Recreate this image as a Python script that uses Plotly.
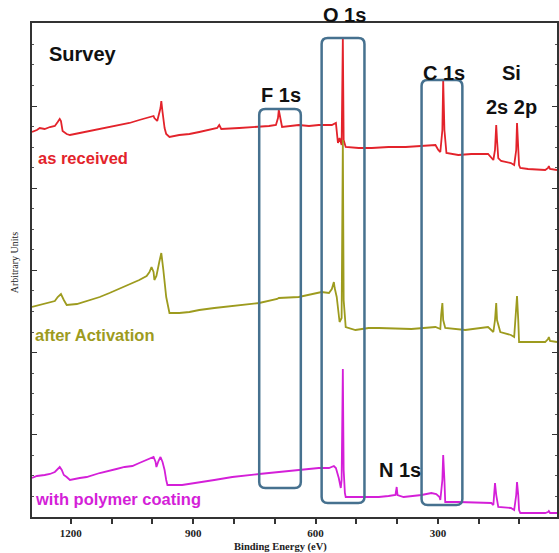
import plotly.graph_objects as go

# ---------------- data (binding energy in eV, intensity in arbitrary units) ----------------
energy_as_received = [1295, 1283, 1276, 1264, 1251, 1239, 1232, 1227, 1224, 1220, 1210, 1202, 1178, 1154,
                      1129, 1105, 1080, 1056, 1032, 1014, 1007, 997, 995, 990, 988, 980, 978, 975, 970, 966,
                      958, 934, 909, 885, 861, 841, 836, 831, 787, 741, 714, 697, 692, 690, 687, 682, 641,
                      616, 592, 560, 550, 545, 541, 536, 533, 531, 526, 494, 462, 421, 379, 348, 306, 299,
                      294, 289, 287, 284, 279, 250, 218, 177, 164, 160, 157, 155, 152, 145, 121, 113, 108,
                      106, 103, 101, 98, 79, 37, 30, 28, 25, 8]
intensity_as_received = [385, 387, 389, 388, 390, 391, 395, 398, 396, 386, 383, 382, 384, 386,
                         388, 390, 392, 394, 397, 399, 400, 401, 399, 397, 396, 409, 416, 405, 389, 383,
                         380, 382, 383, 385, 387, 389, 392, 388, 389, 390, 391, 392, 399, 407, 399, 390, 392,
                         391, 392, 392, 394, 374, 379, 372, 479, 377, 370, 369, 369, 370, 370, 371, 372, 367,
                         365, 387, 437, 387, 364, 362, 363, 363, 357, 367, 392, 377, 359, 356, 354, 352, 367,
                         394, 367, 352, 349, 348, 347, 349, 351, 348, 347]

energy_activation = [1295, 1276, 1251, 1239, 1232, 1224, 1217, 1210, 1185, 1161, 1129, 1105, 1088, 1068,
                     1049, 1032, 1014, 1007, 1002, 997, 995, 990, 983, 978, 973, 966, 958, 934, 909, 885,
                     848, 804, 763, 738, 694, 690, 641, 616, 585, 567, 560, 555, 553, 548, 543, 541, 536,
                     533, 531, 526, 502, 470, 445, 397, 365, 306, 294, 292, 289, 287, 282, 233, 177, 164,
                     160, 157, 155, 147, 121, 113, 108, 106, 103, 101, 79, 37, 30, 28, 25, 8]
intensity_activation = [210, 212, 214, 216, 220, 223, 217, 212, 213, 216, 220, 224, 227, 230,
                        234, 237, 241, 245, 250, 245, 237, 241, 255, 264, 247, 220, 204, 204, 205, 207,
                        209, 211, 213, 214, 218, 219, 220, 222, 225, 224, 228, 235, 229, 220, 205, 195, 199,
                        377, 217, 190, 187, 189, 189, 188, 188, 190, 188, 202, 214, 197, 189, 187, 190, 185,
                        197, 214, 197, 185, 182, 180, 207, 221, 197, 175, 175, 175, 178, 180, 176, 175]

energy_polymer = [1295, 1283, 1264, 1251, 1239, 1232, 1227, 1222, 1217, 1210, 1202, 1178, 1161, 1129,
                  1105, 1088, 1068, 1049, 1032, 1014, 1002, 997, 992, 990, 985, 980, 975, 970, 966, 963,
                  927, 909, 885, 848, 804, 775, 738, 714, 690, 665, 641, 616, 592, 567, 555, 550, 543,
                  538, 536, 533, 531, 528, 526, 494, 445, 421, 404, 401, 399, 384, 360, 340, 316, 304,
                  296, 294, 289, 287, 284, 282, 250, 201, 169, 164, 162, 160, 157, 152, 121, 113, 108,
                  106, 103, 101, 98, 37, 30, 28, 25, 8]
intensity_polymer = [39, 41, 42, 43, 45, 48, 50, 47, 42, 40, 37, 39, 40, 44,
                     46, 48, 50, 51, 54, 57, 59, 60, 55, 50, 56, 60, 55, 47, 37, 32,
                     32, 33, 35, 37, 40, 41, 43, 44, 45, 46, 47, 48, 49, 49, 51, 49, 39,
                     29, 37, 148, 47, 24, 20, 20, 20, 21, 22, 30, 22, 20, 21, 22, 24, 23,
                     20, 17, 37, 62, 37, 15, 15, 14, 14, 12, 22, 34, 22, 10, 9, 7, 22,
                     35, 22, 7, 4, 4, 5, 6, 4, 4]

series_names = ["as received", "after Activation", "with polymer coating"]
series_colors = ["#e3232b", "#9d9b1e", "#d41fd8"]

# highlight boxes (eV range, intensity range)
box_names = ["F 1s", "O 1s", "C 1s"]
box_ev_high = [738, 585, 340]
box_ev_low = [636, 480, 240]
box_int_low = [29, 14, 12]
box_int_high = [408, 479, 437]

# peak labels (inside the plot)
peak_texts = ["F 1s", "C 1s", "Si", "2s 2p", "N 1s"]
peak_ev = [685, 284, 120, 120, 394]
peak_int = [422, 444, 444, 410, 47]

label_ev = [1286, 1293, 1293]
label_int = [359, 182, 18]

x_tickvals = list(range(1200, 0, -100))
x_ticktext = [str(v) if v % 300 == 0 else "" for v in x_tickvals]

# ---------------- figure ----------------
fig = go.Figure()
for name, xs, ys, col in zip(series_names,
                             [energy_as_received, energy_activation, energy_polymer],
                             [intensity_as_received, intensity_activation, intensity_polymer],
                             series_colors):
    fig.add_trace(go.Scatter(x=xs, y=ys, mode="lines", name=name,
                             line=dict(color=col, width=1.8), showlegend=False, hoverinfo="skip"))

rx, ry = 15, 6
for L, R, B, T in zip(box_ev_high, box_ev_low, box_int_low, box_int_high):
    path = (f"M {L-rx},{B} L {R+rx},{B} Q {R},{B} {R},{B+ry} L {R},{T-ry} Q {R},{T} {R+rx},{T} "
            f"L {L-rx},{T} Q {L},{T} {L},{T-ry} L {L},{B+ry} Q {L},{B} {L-rx},{B} Z")
    fig.add_shape(type="path", path=path, xref="x", yref="y",
                  line=dict(color="#46718f", width=2.5), layer="above")

label_font = dict(family="Liberation Sans, Arial, sans-serif", size=20, color="#111111", weight="bold")
for t, xv, yv in zip(peak_texts, peak_ev, peak_int):
    fig.add_annotation(x=xv, y=yv, text=t, showarrow=False, xanchor="center", yanchor="middle",
                       font=label_font)

# O 1s label sits above the frame
fig.add_annotation(x=528, xref="x", yref="paper", y=1.016, text="O 1s", showarrow=False,
                   xanchor="center", yanchor="middle", font=label_font)

fig.add_annotation(x=1258, y=463, text="Survey", showarrow=False, xanchor="left", yanchor="middle",
                   font=label_font)

for name, col, xv, yv in zip(series_names, series_colors, label_ev, label_int):
    fig.add_annotation(x=xv, y=yv, text=name, showarrow=False, xanchor="left", yanchor="middle",
                       font=dict(family="Liberation Sans, Arial, sans-serif", size=16.5, color=col,
                                 weight="bold"))

fig.add_annotation(xref="paper", yref="paper", x=0.4725, y=-0.061, text="Binding Energy (eV)",
                   showarrow=False, xanchor="center", yanchor="middle",
                   font=dict(family="Liberation Serif, Times New Roman, serif", size=10.5,
                             color="#222222", weight="bold"))
fig.add_annotation(xref="paper", yref="paper", x=-0.034, y=0.514, text="Arbitrary Units",
                   showarrow=False, textangle=-90, xanchor="center", yanchor="middle",
                   font=dict(family="Liberation Serif, Times New Roman, serif", size=10,
                             color="#222222"))

fig.update_layout(
    width=559, height=553,
    margin=dict(l=32, r=0, t=23, b=36),
    paper_bgcolor="white", plot_bgcolor="white",
    showlegend=False,
)
fig.update_xaxes(range=[1295, 8], showgrid=False, zeroline=False,
                 showline=True, linecolor="#333333", linewidth=1.6, mirror=True,
                 ticks="outside", ticklen=5, tickwidth=1.5, tickcolor="#333333",
                 tickvals=x_tickvals, ticktext=x_ticktext,
                 tickfont=dict(family="Liberation Serif, Times New Roman, serif", size=11,
                               color="#222222", weight="bold"))
fig.update_yaxes(range=[0, 494], showgrid=False, zeroline=False,
                 showline=True, linecolor="#333333", linewidth=1.6, mirror="ticks",
                 ticks="inside", ticklen=5, tickwidth=1.3, tickcolor="#333333",
                 tick0=0, dtick=82.2, showticklabels=False,
                 minor=dict(ticks="inside", ticklen=2.5, dtick=20.55, tickcolor="#555555", tickwidth=1))

fig.write_html("out.html")
